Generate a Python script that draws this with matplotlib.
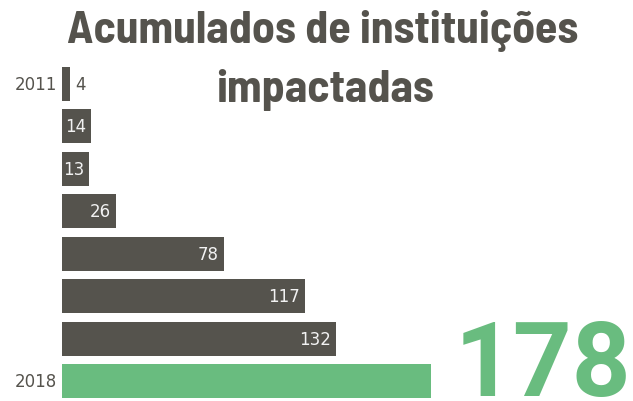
import matplotlib.pyplot as plt

years = ["2011", "2012", "2013", "2014", "2015", "2016", "2017", "2018"]
values = [4, 14, 13, 26, 78, 117, 132, 178]
shown_years = ["2011", "", "", "", "", "", "", "2018"]

dark = "#55534d"
green = "#69bc7f"
title_font = ["Barlow Semi Condensed", "Liberation Sans", "DejaVu Sans"]
label_font = ["DejaVu Sans"]
big_font = ["Roboto", "Liberation Sans", "DejaVu Sans"]

fig = plt.figure(figsize=(6.33, 4.02), dpi=100)
ax = fig.add_axes([62 / 633, 0, 571 / 633, 1])

colors = [dark] * (len(values) - 1) + [green]
pos = list(range(len(values)))
ax.barh(pos, values, height=0.8, color=colors)
ax.set_xlim(0, 571 / 2.073)
ax.set_ylim(7.471, -2.003)
ax.axis("off")

for i, v in enumerate(values):
    if i == len(values) - 1:
        continue
    if v < 10:
        ax.text(v + 2.5, i, str(v), color=dark, fontsize=12, family=label_font,
                ha="left", va="center")
    else:
        ax.text(v - 2.4, i, str(v), color="#f2f2f2", fontsize=12, family=label_font,
                ha="right", va="center")

for i, y in enumerate(shown_years):
    if y:
        ax.text(-2.5, i, y, color=dark, fontsize=12, family=label_font,
                ha="right", va="center")

# big total on the right
ax.text(values[-1] + 11.5, len(values) - 1 + 0.33, str(values[-1]), color=green,
        fontsize=74, fontweight="bold", family=big_font, ha="left", va="baseline")

fig.text(0.51, 1 - 43 / 402, "Acumulados de instituições", color=dark,
         fontsize=33, fontweight="bold", family=title_font, ha="center", va="baseline")
fig.text(0.513, 1 - 102 / 402, "impactadas", color=dark,
         fontsize=33, fontweight="bold", family=title_font, ha="center", va="baseline")

fig.savefig("out.png")
